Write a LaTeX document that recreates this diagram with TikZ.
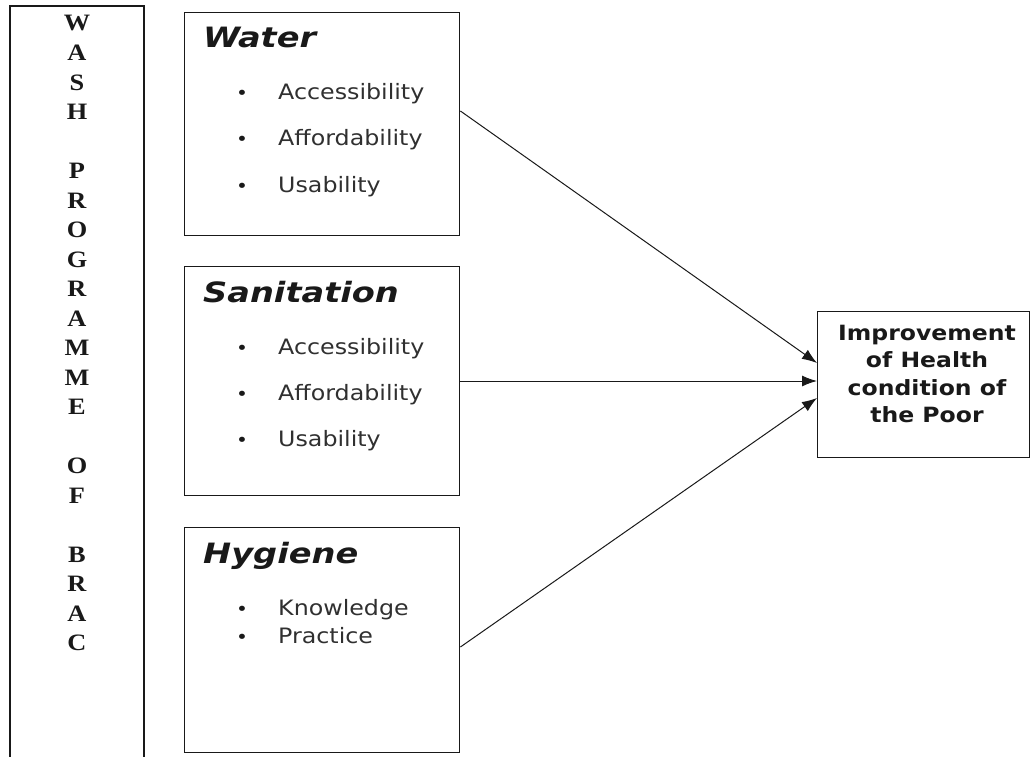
\documentclass[tikz,border=0pt]{standalone}
\usepackage{fontspec}
\usetikzlibrary{arrows.meta}
\newfontfamily\vsans[FakeStretch=1.12]{DejaVu Sans}
\newfontfamily\vtitle[FakeStretch=1.2]{DejaVu Sans}
\newfontfamily\tser[FakeStretch=1.12]{Liberation Serif}
\definecolor{ink}{RGB}{25,25,25}
\tikzset{
  box/.style={draw=ink, line width=1.4pt, anchor=north west, inner sep=0pt},
  ttl/.style={anchor=base west, inner sep=0pt, text=ink, font=\vtitle\bfseries\itshape\fontsize{28}{32}\selectfont},
  itm/.style={anchor=base west, inner sep=0pt, text=ink!90, font=\vsans\fontsize{21.2}{26}\selectfont},
  bul/.style={anchor=base, inner sep=0pt, text=ink, font=\vsans\fontsize{18}{22}\selectfont},
  ltr/.style={anchor=base, inner sep=0pt, text=ink, font=\tser\bfseries\fontsize{23.5}{27}\selectfont},
  res/.style={anchor=base, inner sep=0pt, text=ink, font=\vsans\bfseries\fontsize{21}{24}\selectfont},
  arr/.style={draw=ink, line width=1pt, -{Latex[length=15pt,width=11pt]}}
}
\newcommand{\bitem}[3]{%
  \node[bul] (#1b) at (242,#2) {•};
  \node[itm] (#1) at (278,#2) {#3};}
\begin{document}
\begin{tikzpicture}[x=1pt,y=-1pt]
\useasboundingbox (0,0) rectangle (1030,757);
% left box (open at bottom)
\coordinate (lbl) at (10,770);
\coordinate (lbr) at (144,770);
\draw[draw=ink, line width=1.4pt] (lbl) -- (10,6) -- (144,6) -- (lbr);
\foreach \ch [count=\i from 0] in {W,A,S,H,{},P,R,O,G,R,A,M,M,E,{},O,F,{},B,R,A,C}{
  \node[ltr] (l\i) at (77,{31+\i*29.52}) {\ch};
}
% Water
\node[box, minimum width=275pt, minimum height=223pt] (water) at (184,12) {};
\node[ttl] (waterT) at (203,48) {Water};
\bitem{wa}{100}{Accessibility}
\bitem{wb}{146}{Affordability}
\bitem{wc}{192}{Usability}
% Sanitation
\node[box, minimum width=275pt, minimum height=229pt] (san) at (184,266) {};
\node[ttl] (sanT) at (203,302) {Sanitation};
\bitem{sa}{354}{Accessibility}
\bitem{sb}{400}{Affordability}
\bitem{sc}{446}{Usability}
% Hygiene
\node[box, minimum width=275pt, minimum height=225pt] (hyg) at (184,527) {};
\node[ttl] (hygT) at (203,563) {Hygiene};
\bitem{ha}{615}{Knowledge}
\bitem{hb}{643}{Practice}
% Result
\node[box, minimum width=212pt, minimum height=146pt] (health) at (817,311) {};
\node[res] (r1) at (927,340) {Improvement};
\node[res] (r2) at (927,367.5) {of Health};
\node[res] (r3) at (927,395) {condition of};
\node[res] (r4) at (927,422) {the Poor};
% arrows
\draw[arr] (water.east |- 0,111) -- (health.west |- 0,363);
\draw[arr] (san.east |- 0,381) -- (health.west |- 0,381);
\draw[arr] (hyg.east |- 0,647) -- (health.west |- 0,398);
\end{tikzpicture}
\end{document}
